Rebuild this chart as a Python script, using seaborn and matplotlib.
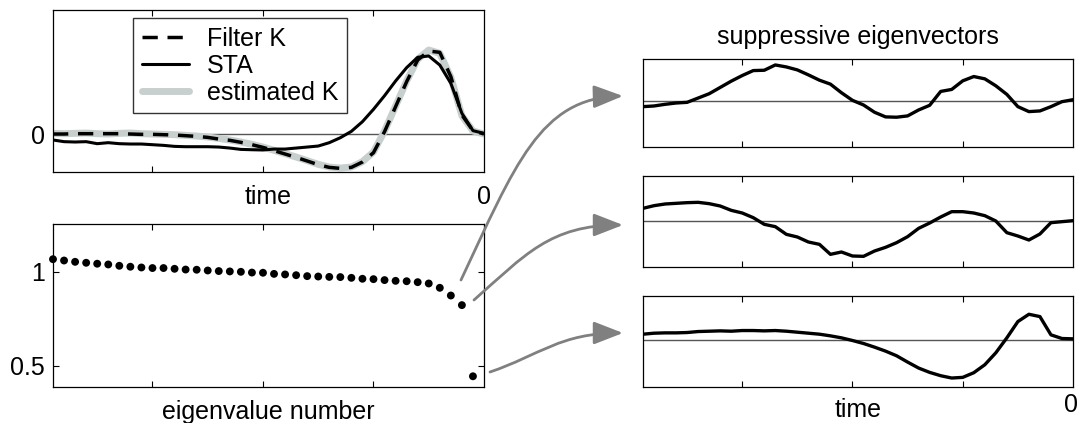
import numpy as np
import seaborn as sns
import matplotlib.pyplot as plt
import pandas as pd
from matplotlib.path import Path
from matplotlib.patches import FancyArrowPatch

# time axis shared by all filter panels (40 samples, ending at 0)
time = np.round(np.arange(-3.9, 0.01, 0.1), 2)

filter_k = [0, 0, 0.004, 0.004, 0.004, 0.004, 0.004, 0, -0.004, -0.004,
            -0.008, -0.012, -0.020, -0.028, -0.040, -0.060, -0.075, -0.099, -0.127, -0.159,
            -0.198, -0.238, -0.278, -0.321, -0.365, -0.397, -0.409, -0.397, -0.333, -0.222,
            0.028, 0.325, 0.623, 0.881, 0.988, 0.972, 0.683, 0.226, 0.040, 0]
estimated_k = [0.008, 0.004, 0.008, 0.012, 0.004, 0.0, 0.008, 0.012, 0.004, 0.0,
               -0.004, -0.008, -0.016, -0.024, -0.036, -0.052, -0.071, -0.095, -0.123, -0.155,
               -0.194, -0.234, -0.274, -0.317, -0.361, -0.393, -0.405, -0.393, -0.329, -0.214,
               0.036, 0.333, 0.631, 0.889, 1.0, 0.960, 0.675, 0.218, 0.036, 0]
sta = [-0.071, -0.091, -0.095, -0.091, -0.115, -0.103, -0.115, -0.119, -0.119, -0.127,
       -0.135, -0.147, -0.151, -0.151, -0.151, -0.155, -0.167, -0.183, -0.187, -0.190,
       -0.179, -0.179, -0.167, -0.155, -0.143, -0.103, -0.044, 0.032, 0.147, 0.294,
       0.456, 0.631, 0.790, 0.913, 0.929, 0.821, 0.603, 0.246, 0.040, 0.008]

eig_number = np.arange(1, 40)
eig_values = [1.067, 1.060, 1.053, 1.048, 1.043, 1.039, 1.032, 1.027, 1.023, 1.020,
              1.020, 1.016, 1.012, 1.011, 1.007, 1.004, 1.002, 1.000, 0.996, 0.995,
              0.989, 0.986, 0.982, 0.977, 0.975, 0.973, 0.972, 0.968, 0.963, 0.961,
              0.956, 0.952, 0.950, 0.945, 0.938, 0.915, 0.874, 0.823, 0.445]

eigvec_1 = [-0.16, -0.14, -0.09, -0.05, -0.03, 0.10, 0.23, 0.42, 0.61, 0.78,
            0.93, 0.94, 1.10, 1.04, 0.95, 0.80, 0.64, 0.52, 0.26, 0.03,
            -0.11, -0.33, -0.47, -0.48, -0.44, -0.26, -0.12, 0.30, 0.36, 0.62,
            0.75, 0.68, 0.47, 0.21, -0.16, -0.31, -0.29, -0.16, -0.01, 0.05]
eigvec_2 = [0.38, 0.46, 0.51, 0.53, 0.55, 0.56, 0.52, 0.45, 0.32, 0.24,
            0.10, -0.10, -0.17, -0.40, -0.48, -0.63, -0.70, -1.00, -0.93, -1.05,
            -1.06, -0.90, -0.79, -0.65, -0.47, -0.22, -0.06, 0.12, 0.28, 0.28,
            0.24, 0.16, 0.00, -0.35, -0.45, -0.57, -0.39, -0.05, -0.02, 0.01]
eigvec_3 = [0.16, 0.19, 0.20, 0.20, 0.21, 0.24, 0.25, 0.26, 0.25, 0.27,
            0.27, 0.26, 0.27, 0.25, 0.22, 0.19, 0.16, 0.11, 0.05, -0.03,
            -0.12, -0.23, -0.35, -0.49, -0.68, -0.86, -0.99, -1.09, -1.16, -1.14,
            -1.00, -0.76, -0.40, 0.05, 0.54, 0.76, 0.69, 0.14, 0.03, 0.02]

sns.set_theme(style="ticks")
plt.rcParams['font.family'] = ['Liberation Sans', 'DejaVu Sans']
FS = 18
plt.rcParams['font.size'] = FS
plt.rcParams['text.color'] = 'black'
plt.rcParams['axes.labelcolor'] = 'black'

W, H = 1081, 423
fig = plt.figure(figsize=(W / 100, H / 100), dpi=100)


def add_axes(x0, y0, x1, y1):
    # pixel box -> figure fraction
    return fig.add_axes([x0 / W, 1 - y1 / H, (x1 - x0) / W, (y1 - y0) / H])


def style(ax):
    ax.tick_params(direction="in", top=True, right=True, length=4, width=0.8,
                   colors="black", labelsize=FS, pad=6)
    for s in ax.spines.values():
        s.set_linewidth(0.9)
        s.set_color("black")


grey = "#808080"
zero_col = "#555555"

# --- filter panel
df = pd.DataFrame({"time": time, "Filter K": filter_k, "STA": sta, "estimated K": estimated_k})
ax1 = add_axes(53, 10, 484, 172)
ax1.axhline(0, color=zero_col, lw=1, zorder=1)
sns.lineplot(data=df, x="time", y="estimated K", ax=ax1, color="#c7d0ce", lw=5, zorder=2)
sns.lineplot(data=df, x="time", y="STA", ax=ax1, color="black", lw=2.2, zorder=3)
sns.lineplot(data=df, x="time", y="Filter K", ax=ax1, color="black", lw=2.5, zorder=4)
l_est, l_sta, l_fk = ax1.lines[1], ax1.lines[2], ax1.lines[3]
l_fk.set_dashes((4.4, 2.8))
ax1.set_xlim(-3.9, 0)
ax1.set_ylim(-0.452, 1.476)
ax1.set_xticks([-3, -2, -1])
ax1.set_xticklabels([])
ax1.set_yticks([0])
ax1.set_yticklabels(["0"])
ax1.set_ylabel("")
ax1.set_xlabel("time", fontsize=FS, labelpad=3.5)
ax1.text(1.0, -0.155, "0", transform=ax1.transAxes, ha="center", va="center", fontsize=FS)
style(ax1)
leg = ax1.legend([l_fk, l_sta, l_est], ["Filter K", "STA", "estimated K"],
                 loc="upper left", bbox_to_anchor=(0.186, 0.951), borderaxespad=0,
                 fontsize=FS, handlelength=1.9, frameon=True, fancybox=False,
                 labelspacing=0.12, borderpad=0.35, handletextpad=0.7)
leg.get_frame().set_edgecolor("black")
leg.get_frame().set_linewidth(1.0)

# --- eigenvalue panel
ev = pd.DataFrame({"eigenvalue number": eig_number, "eigenvalue": eig_values})
ax2 = add_axes(53, 224, 484, 387)
sns.scatterplot(data=ev, x="eigenvalue number", y="eigenvalue", ax=ax2,
                color="black", s=32, edgecolor="none", clip_on=False, zorder=3)
ax2.set_xlim(1, 40)
ax2.set_ylim(0.388, 1.254)
ax2.set_xticks([10, 20, 30])
ax2.set_xticklabels([])
ax2.set_yticks([0.5, 1])
ax2.set_yticklabels(["0.5", "1"])
ax2.set_ylabel("")
ax2.set_xlabel("eigenvalue number", fontsize=FS, labelpad=3.5)
style(ax2)

# --- suppressive eigenvectors
boxes = [(59, 147, (-1.38, 1.28)), (176, 267, (-1.38, 1.35)), (296, 387, (-1.43, 1.31))]
vecs = [eigvec_1, eigvec_2, eigvec_3]
right_axes = []
for (y0, y1, lim), v in zip(boxes, vecs):
    ax = add_axes(643, y0, 1073, y1)
    ax.axhline(0, color=zero_col, lw=1, zorder=1)
    sns.lineplot(x=time, y=v, ax=ax, color="black", lw=2.4, zorder=3)
    ax.set_xlim(-3.9, 0)
    ax.set_ylim(*lim)
    ax.set_xticks([-3, -2, -1])
    ax.set_xticklabels([])
    ax.set_yticks([])
    style(ax)
    ax.tick_params(left=False, right=False)
    right_axes.append(ax)

right_axes[0].set_title("suppressive eigenvectors", fontsize=FS, pad=11)
right_axes[-1].set_xlabel("time", fontsize=FS, labelpad=2)
right_axes[-1].text(0.995, -0.2, "0", transform=right_axes[-1].transAxes,
                    ha="center", va="center", fontsize=FS)

# --- grey curved arrows from eigenvalues to eigenvectors
arrow_paths = [
    [(461, 280), (515, 165), (540, 98), (623, 96)],
    [(474, 300), (525, 255), (550, 225), (623, 225)],
    [(490, 372), (540, 355), (560, 333), (623, 333)],
]
for pts in arrow_paths:
    verts = [(x / W, 1 - y / H) for x, y in pts]
    path = Path(verts, [Path.MOVETO, Path.CURVE4, Path.CURVE4, Path.CURVE4])
    arr = FancyArrowPatch(path=path, transform=fig.transFigure,
                          arrowstyle="-|>,head_length=1.8,head_width=0.7",
                          mutation_scale=10, color=grey, lw=2)
    fig.patches.append(arr)

fig.savefig("out.png", dpi=100)
